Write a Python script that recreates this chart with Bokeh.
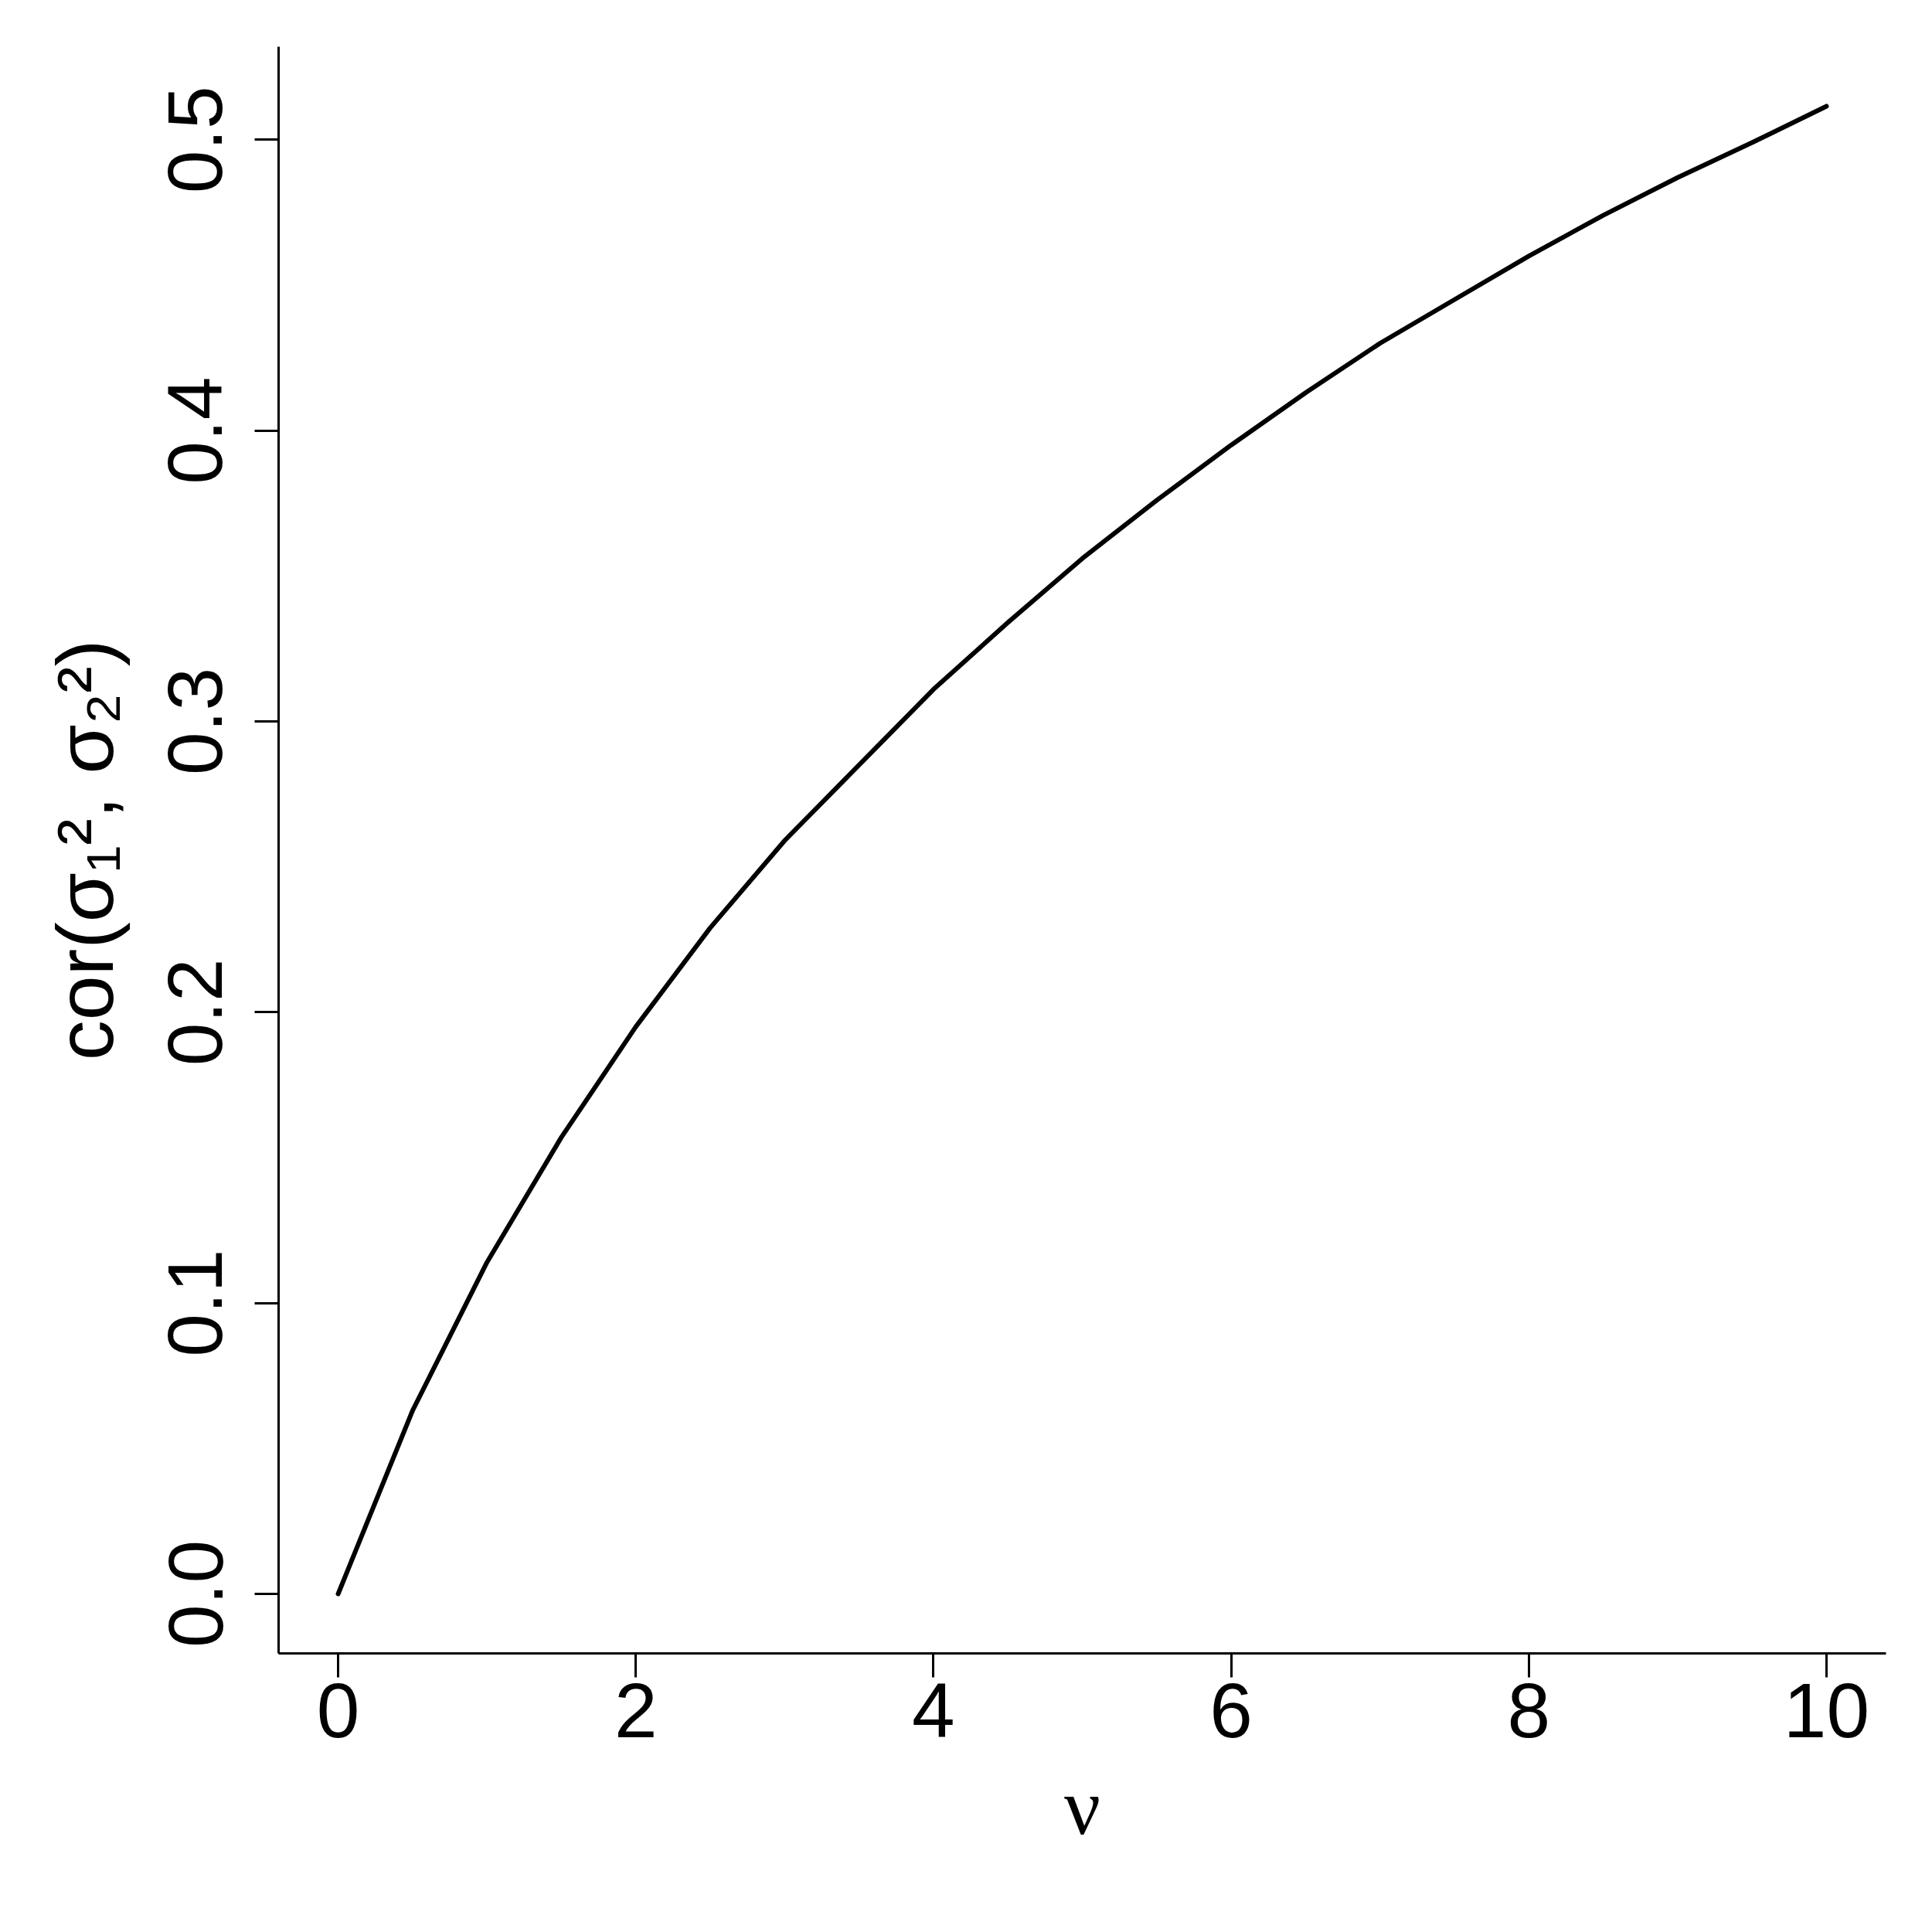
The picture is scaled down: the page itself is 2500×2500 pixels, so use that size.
from bokeh.plotting import figure
from bokeh.models import Range1d, FixedTicker
from bokeh.embed import file_html
from bokeh.resources import INLINE

# data
nu = [0.0, 0.5, 1.0, 1.5, 2.0, 2.5, 3.0, 3.5, 4.0, 4.5, 5.0,
      5.5, 6.0, 6.5, 7.0, 7.5, 8.0, 8.5, 9.0, 9.5, 10.0]
cor_var = [0.000, 0.063, 0.114, 0.157, 0.195, 0.229, 0.259, 0.285, 0.311, 0.334, 0.356,
           0.376, 0.395, 0.413, 0.430, 0.445, 0.460, 0.474, 0.487, 0.499, 0.5115]

x_ticks = [0, 2, 4, 6, 8, 10]
y_ticks = [0.0, 0.1, 0.2, 0.3, 0.4, 0.5]
y_tick_labels = {0.0: "0.0", 0.1: "0.1", 0.2: "0.2", 0.3: "0.3", 0.4: "0.4", 0.5: "0.5"}

p = figure(
    output_backend="svg", toolbar_location=None,
    frame_width=2080, frame_height=2079,
    min_border_left=360, min_border_right=52,
    min_border_top=60, min_border_bottom=353,
    x_range=Range1d(-0.4, 10.4),
    y_range=Range1d(-0.02046, 0.53196),
)
p.outline_line_color = None
p.grid.visible = False
p.background_fill_color = "white"
p.border_fill_color = "white"

p.line(nu, cor_var, line_color="black", line_width=6, line_cap="round", line_join="round")

for ax in (p.xaxis[0], p.yaxis[0]):
    ax.axis_line_color = "black"
    ax.axis_line_width = 3
    ax.major_tick_line_color = "black"
    ax.major_tick_line_width = 3
    ax.major_tick_out = 31
    ax.major_tick_in = 0
    ax.minor_tick_line_color = None
    ax.major_label_text_font = "Liberation Sans"
    ax.major_label_text_font_size = "100px"
    ax.major_label_text_color = "black"
    ax.axis_label_text_font_style = "normal"
    ax.axis_label_text_color = "black"

p.xaxis[0].ticker = FixedTicker(ticks=x_ticks)
p.yaxis[0].ticker = FixedTicker(ticks=y_ticks)
p.yaxis[0].major_label_overrides = y_tick_labels
p.yaxis[0].major_label_orientation = "vertical"

p.xaxis[0].major_label_standoff = 8
p.yaxis[0].major_label_standoff = 42

p.xaxis[0].axis_label = "ν"
p.xaxis[0].axis_label_text_font = "Liberation Serif"
p.xaxis[0].axis_label_text_font_size = "104px"
p.xaxis[0].axis_label_standoff = 29

p.yaxis[0].axis_label = "cor(σ₁², σ₂²)"
p.yaxis[0].axis_label_text_font = "Liberation Sans"
p.yaxis[0].axis_label_text_font_size = "104px"
p.yaxis[0].axis_label_standoff = 48

open("out.html", "w").write(file_html(p, INLINE))
